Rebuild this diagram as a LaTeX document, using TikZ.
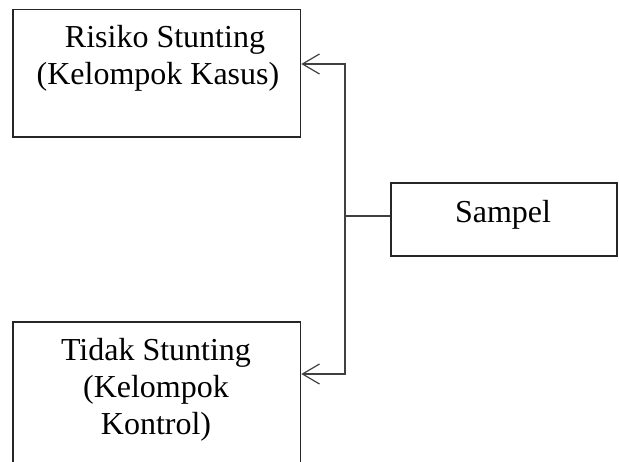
\documentclass[tikz,border=0pt]{standalone}
\usepackage{fontspec}
\setmainfont{Liberation Serif}
\usetikzlibrary{arrows.meta}
\begin{document}
\begin{tikzpicture}[x=1pt,y=-1pt,
  box/.style={draw=black!85,line width=1.6pt,rectangle,inner sep=0pt},
  lbl/.style={align=center,inner sep=0pt,font=\fontsize{32}{37}\selectfont},
  link/.style={draw=black!75,line width=1.6pt},
  arr/.style={link,-{Straight Barb[length=17pt,width=20pt,line width=1.2pt]}}]
  \useasboundingbox (0,0) rectangle (619,462);
  \begin{scope}
    \clip (0,0) rectangle (619,462);
    % group boxes
    \node[box,minimum width=287.5pt,minimum height=127.5pt] (risiko) at (156.75,73.25) {};
    \node[box,minimum width=287.5pt,minimum height=160pt] (tidak) at (156.75,402) {};
    \node[box,minimum width=226pt,minimum height=73pt] (sampel) at (504,219.5) {};
    % box texts (base anchor sits on the last line)
    \node[lbl,anchor=base] (tr) at (158,85) {\hspace*{14pt}Risiko Stunting\\(Kelompok Kasus)};
    \node[lbl,anchor=base] (tt) at (156,435) {Tidak Stunting\\(Kelompok\\Kontrol)};
    \node[lbl,anchor=base] (ts) at (503,223) {Sampel};
    % connectors
    \coordinate (j) at (345,216);
    \coordinate (ja) at (345,64);
    \coordinate (jb) at (345,374);
    \draw[link] (sampel.west |- j) -- (j);
    \draw[arr] (j) -- (ja) -- (risiko.east |- ja);
    \draw[arr] (j) -- (jb) -- (tidak.east |- jb);
  \end{scope}
\end{tikzpicture}
\end{document}
